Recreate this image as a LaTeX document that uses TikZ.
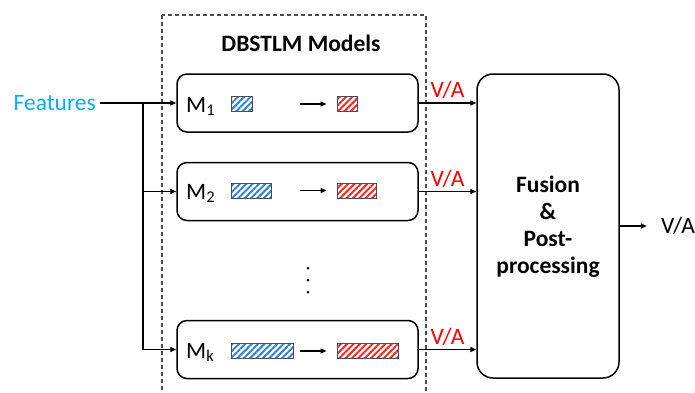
\documentclass[tikz,border=0pt]{standalone}
\usepackage{fontspec}
\setmainfont{Carlito}
\usetikzlibrary{arrows.meta,patterns.meta}
\definecolor{featblue}{RGB}{0,176,240}
\definecolor{vared}{RGB}{255,0,0}
\definecolor{hatchblue}{RGB}{50,130,215}
\definecolor{hatchred}{RGB}{245,40,40}
\tikzset{
  arr/.style={line width=1.4pt, -{Triangle[length=6pt,width=5pt]}},
  model/.style={draw, line width=1.5pt, rounded corners=10pt, minimum width=241pt, minimum height=58pt},
  mlabel/.style={anchor=base west, inner sep=0pt},
  hatch/.style={draw=black!70, line width=1pt, minimum height=15pt, inner sep=0pt,
    pattern={Lines[angle=45,distance=4.5pt,line width=2pt]}},
  inblue/.style={hatch, pattern color=hatchblue},
  outred/.style={hatch, pattern color=hatchred},
  va/.style={text=vared, above=0pt, midway}
}
\begin{document}
\begin{tikzpicture}[x=1pt, y=-1pt, font=\fontsize{23.5}{28}\selectfont]
\useasboundingbox (0,0) rectangle (695,392);
\clip (0,0) rectangle (695,392);
% dashed frame round the models
\draw[black!70, line width=1.2pt, dash pattern=on 4pt off 3pt] (162,15) rectangle (426,400);
\node[font=\fontsize{23.5}{28}\selectfont\bfseries] (title) at (301,43) {DBSTLM Models};
% models
\node[model] (m1) at (297.5,103) {};
\node[model] (m2) at (297.5,191.5) {};
\node[model] (mk) at (297.5,349.5) {};
\node[mlabel] (l1) at (186,112) {M\textsubscript{1}};
\node[mlabel] (l2) at (186,199) {M\textsubscript{2}};
\node[mlabel] (lk) at (186,358) {M\textsubscript{k}};
\node[inblue, minimum width=21pt] (b1) at (242,104) {};
\node[outred, minimum width=20pt] (r1) at (347,104) {};
\node[inblue, minimum width=40pt] (b2) at (251,190.5) {};
\node[outred, minimum width=39pt] (r2) at (356.5,190.5) {};
\node[inblue, minimum width=62pt] (bk) at (262,351) {};
\node[outred, minimum width=61pt] (rk) at (367.5,351) {};
\coordinate (s1) at (300,104);
\coordinate (s2) at (300,190.5);
\coordinate (sk) at (300,351);
\draw[arr, line width=1.2pt, shorten >=10pt] (s1) -- (r1.west);
\draw[arr, line width=1.2pt, shorten >=10pt] (s2) -- (r2.west);
\draw[arr, line width=1.2pt, shorten >=10pt] (sk) -- (rk.west);
\foreach \y in {268,280,292} \fill (308,\y) circle (1.5pt);
% input
\node[text=featblue, anchor=east, inner sep=4pt] (feat) at (100,103) {Features};
\coordinate (br) at (143,103);
\draw[arr] (feat.east) -- (m1.west);
\draw[arr] (br) |- (m2.west);
\draw[arr] (br) |- (mk.west);
% fusion
\node[draw, line width=1.5pt, rounded corners=16pt, minimum width=142pt, minimum height=304pt] (fus) at (548,226) {};
\node[font=\fontsize{23.5}{27}\selectfont\bfseries, align=center] (fustext) at (548,227) {Fusion\\\&\\Post-\\processing};
\draw[arr] (m1.east) -- (fus.west |- m1.east) node[va] {V/A};
\draw[arr] (m2.east) -- (fus.west |- m2.east) node[va] {V/A};
\draw[arr] (mk.east) -- (fus.west |- mk.east) node[va] {V/A};
\node[inner sep=3pt] (out) at (678,226) {V/A};
\draw[arr, shorten >=11pt] (fus.east) -- (out.west);
\end{tikzpicture}
\end{document}
